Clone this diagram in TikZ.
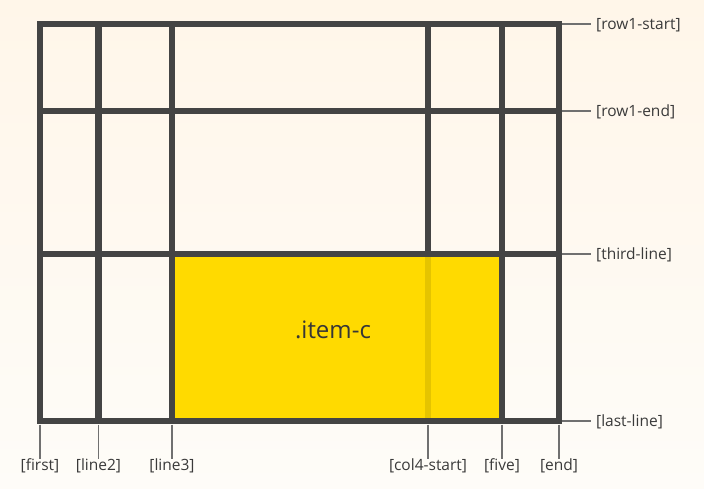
\documentclass[tikz,border=0pt]{standalone}
\usepackage{fontspec}
\setmainfont{Open Sans}
\usetikzlibrary{positioning}
\definecolor{creamhi}{RGB}{255,246,233}
\definecolor{creamlo}{RGB}{254,252,248}
\definecolor{gridink}{RGB}{68,68,68}
\definecolor{tickink}{RGB}{112,112,112}
\definecolor{itemgold}{RGB}{255,218,0}

\begin{document}
\begin{tikzpicture}[x=1pt,y=-1pt,
  gridline/.style={gridink, line width=6.6pt, line cap=rect},
  tick/.style={tickink, line width=1.3pt},
  lbl/.style={font=\fontsize{15.5}{18}\selectfont, text=gridink!85!black, inner sep=2pt}]
  % page + background
  \useasboundingbox (0,0) rectangle (704,489);
  \shade[top color=creamhi, bottom color=creamlo] (0,0) rectangle (704,489);
  % grid lines
  \foreach \x in {40,98.5,172,428,502,559} \draw[gridline] (\x,24) -- (\x,421);
  \foreach \y in {24,111,254,421} \draw[gridline] (40,\y) -- (559,\y);
  % the placed item (line3 -> five, third-line -> last-line)
  \fill[itemgold] (175.3,257.3) rectangle (498.7,417.7);
  \fill[itemgold!90!black] (424.7,257.3) rectangle (431.3,417.7);
  \node[font=\fontsize{24}{28}\selectfont, text=gridink!80!black] (item-c) at (333,330) {.item-c};
  % column line names
  \foreach \x/\nm in {40/first,98.5/line2,172/line3,428/col4-start,502/five,559/end} {
    \coordinate (c-\nm) at (\x,424.5);
    \node[lbl] (\nm) at (\x,466) {[\nm]};
    \draw[tick, shorten >=-2pt] (c-\nm) -- (\nm.north);
  }
  % row line names
  \foreach \y/\nm in {24/row1-start,111/row1-end,254/third-line,421/last-line} {
    \coordinate (r-\nm) at (562.3,\y);
    \node[lbl, anchor=west] (\nm) at (594,\y+1) {[\nm]};
    \draw[tick, shorten >=3pt] (r-\nm) -- (r-\nm -| \nm.west);
  }
\end{tikzpicture}
\end{document}
